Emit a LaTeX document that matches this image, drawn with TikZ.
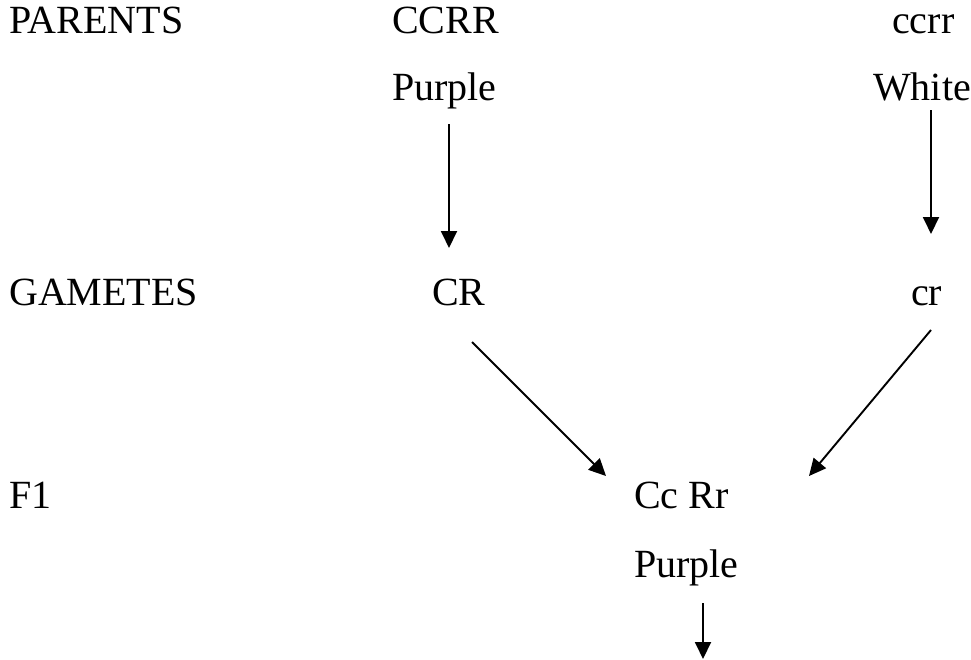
\documentclass[tikz,border=0pt]{standalone}
\usepackage{fontspec}
\setmainfont{Liberation Serif}
\usetikzlibrary{arrows.meta}
\begin{document}
\begin{tikzpicture}[x=1pt,y=-1pt,
  lbl/.style={inner sep=0pt,anchor=base west,font=\fontsize{40}{48}\selectfont},
  arr/.style={line width=1.9pt,-{Triangle[length=17pt,width=16pt]}}]
\useasboundingbox (0,0) rectangle (971,659);
% row labels
\node[lbl] (parents) at (9,33) {PARENTS};
\node[lbl] (gametes) at (9,305) {GAMETES};
\node[lbl] (f1) at (9,508) {F1};
% parental generation
\node[lbl] (pA) at (392,33) {CCRR};
\node[lbl] (phA) at (392,100) {Purple};
\node[lbl] (pB) at (892,33) {ccrr};
\node[lbl] (phB) at (873,100) {White};
% gametes
\node[lbl] (gA) at (432,305) {CR};
\node[lbl] (gB) at (911,305) {cr};
% first filial generation
\node[lbl] (f1g) at (634,508) {Cc Rr};
\node[lbl] (f1p) at (634,577) {Purple};
% arrow end points
\coordinate (a1s) at (449,124); \coordinate (a1e) at (449,248);
\coordinate (a2s) at (931,110); \coordinate (a2e) at (931,234);
\coordinate (a3s) at (472,342); \coordinate (a3e) at (606,476);
\coordinate (a4s) at (931,330); \coordinate (a4e) at (809,476);
\coordinate (a5s) at (703,603); \coordinate (a5e) at (703,659);
\draw[arr] (a1s) -- (a1e);
\draw[arr] (a2s) -- (a2e);
\draw[arr] (a3s) -- (a3e);
\draw[arr] (a4s) -- (a4e);
\draw[arr] (a5s) -- (a5e);
\end{tikzpicture}
\end{document}
